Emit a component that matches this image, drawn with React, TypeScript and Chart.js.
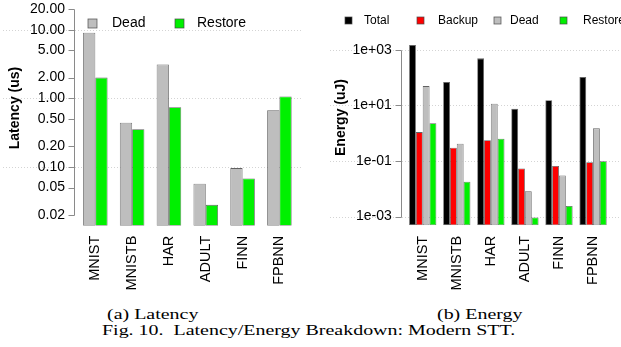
import React, { useEffect, useRef } from 'react';
import { Chart, registerables } from 'chart.js';
Chart.register(...registerables);

// ---------------- data ----------------
const categories = ['MNIST', 'MNISTB', 'HAR', 'ADULT', 'FINN', 'FPBNN'];

const latencyDead = [9.0, 0.44, 3.1, 0.057, 0.096, 0.67];
const latencyRestore = [2.0, 0.355, 0.74, 0.028, 0.068, 1.06];
const latencyTicks = [20, 10, 5, 2, 1, 0.5, 0.2, 0.1, 0.05, 0.02];
const latencyTickLabels = ['20.00', '10.00', '5.00', '2.00', '1.00', '0.50', '0.20', '0.10', '0.05', '0.02'];
const latencyGrid = [10, 1, 0.1];

const energyTotal = [1500, 70, 500, 7.7, 15.4, 106];
const energyBackup = [1.1, 0.3, 0.56, 0.054, 0.066, 0.09];
const energyDead = [50, 0.42, 11.6, 0.0081, 0.03, 1.5];
const energyRestore = [2.3, 0.018, 0.64, 0.00093, 0.0024, 0.098];
const energyTicks = [1000, 10, 0.1, 0.001];
const energyTickLabels = ['1e+03', '1e+01', '1e-01', '1e-03'];
const energyGrid = [1000, 10, 0.1, 0.001];

// ---------------- styles ----------------
const SANS = '"Liberation Sans", Arial, Helvetica, sans-serif';
const SERIF = '"Liberation Serif", "Times New Roman", serif';
const GREY = '#bebebe';
const GREEN = '#00f000';
const RED = '#ff0000';
const BLACK = '#000000';
const EDGE = 'rgba(70,70,70,0.85)';

const decoPlugin = {
  id: 'deco',
  beforeDraw(chart: any, _args: any, o: any) {
    const ctx = chart.ctx;
    const y = chart.scales.y;
    ctx.save();
    ctx.strokeStyle = '#d4d4d4';
    ctx.lineWidth = 1;
    ctx.setLineDash([1, 2]);
    for (const v of o.gridVals) {
      const py = Math.round(y.getPixelForValue(v)) + 0.5;
      ctx.beginPath();
      ctx.moveTo(o.gridX0, py);
      ctx.lineTo(o.gridX1, py);
      ctx.stroke();
    }
    ctx.restore();
  },
  afterDraw(chart: any, _args: any, o: any) {
    const ctx = chart.ctx;
    const y = chart.scales.y;
    const ticks: number[] = o.ticks;
    const ax = Math.round(chart.chartArea.left - o.axisGap) + 0.5;
    ctx.save();
    ctx.strokeStyle = '#8a8a8a';
    ctx.lineWidth = 1;
    const yTop = Math.round(y.getPixelForValue(ticks[0])) + 0.5;
    const yBot = Math.round(y.getPixelForValue(ticks[ticks.length - 1])) + 0.5;
    ctx.beginPath();
    ctx.moveTo(ax, yTop);
    ctx.lineTo(ax, yBot);
    for (const v of ticks) {
      const py = Math.round(y.getPixelForValue(v)) + 0.5;
      ctx.moveTo(ax, py);
      ctx.lineTo(ax - o.tickLen, py);
    }
    ctx.stroke();

    // axis title
    ctx.fillStyle = '#000';
    ctx.font = `bold ${o.titleSize}px ${SANS}`;
    ctx.translate(o.titleX, o.titleY);
    ctx.rotate(-Math.PI / 2);
    ctx.textAlign = 'center';
    ctx.textBaseline = 'middle';
    ctx.fillText(o.title, 0, 0);
    ctx.restore();

    // legend
    ctx.save();
    ctx.font = `${o.legendSize}px ${SANS}`;
    ctx.textBaseline = 'middle';
    ctx.textAlign = 'left';
    for (const it of o.legend) {
      ctx.fillStyle = it.color;
      ctx.fillRect(it.boxX, o.legendY - o.box / 2, o.box, o.box);
      ctx.strokeStyle = EDGE;
      ctx.lineWidth = 0.8;
      ctx.strokeRect(it.boxX, o.legendY - o.box / 2, o.box, o.box);
      ctx.fillStyle = '#000';
      ctx.fillText(it.label, it.textX, o.legendY);
    }
    ctx.restore();
  },
};

function barSet(label: string, data: number[], color: string) {
  return {
    label,
    data,
    backgroundColor: color,
    borderColor: EDGE,
    borderWidth: 0.8,
    borderSkipped: false,
    barPercentage: 1,
  };
}

function makeOptions(cfg: any) {
  return {
    animation: false,
    responsive: false,
    maintainAspectRatio: false,
    layout: { padding: { top: cfg.top, right: cfg.right, left: 0, bottom: 0 } },
    plugins: {
      legend: { display: false },
      tooltip: { enabled: false },
      deco: cfg.deco,
    },
    scales: {
      x: {
        grid: { display: false, drawTicks: false },
        border: { display: false },
        ticks: {
          minRotation: 90,
          maxRotation: 90,
          autoSkip: false,
          padding: cfg.xPad,
          color: '#000',
          font: { family: SANS, size: 14.5 },
        },
        afterFit: (s: any) => {
          s.height = cfg.xHeight;
        },
      },
      y: {
        type: 'logarithmic',
        min: cfg.min,
        max: cfg.max,
        grid: { display: false, drawTicks: false },
        border: { display: false },
        afterBuildTicks: (s: any) => {
          s.ticks = cfg.ticks.map((v: number) => ({ value: v }));
        },
        ticks: {
          autoSkip: false,
          padding: cfg.yPad,
          color: '#000',
          font: { family: SANS, size: 14 },
          callback: (v: number) => cfg.tickLabels[cfg.ticks.indexOf(v)],
        },
        afterFit: (s: any) => {
          s.width = cfg.yWidth;
          s.paddingTop = 0;
          s.paddingBottom = 0;
        },
      },
    },
  };
}

function LatencyChart() {
  const ref = useRef<HTMLCanvasElement>(null);
  useEffect(() => {
    const chart = new Chart(ref.current as HTMLCanvasElement, {
      type: 'bar',
      data: {
        labels: categories,
        datasets: [
          { ...barSet('Dead', latencyDead, GREY), categoryPercentage: 2 / 3 },
          { ...barSet('Restore', latencyRestore, GREEN), categoryPercentage: 2 / 3 },
        ],
      },
      options: makeOptions({
        top: 9,
        right: 12.2,
        xPad: 10,
        xHeight: 74.3,
        min: 0.0139,
        max: 20,
        ticks: latencyTicks,
        tickLabels: latencyTickLabels,
        yPad: 11.9,
        yWidth: 76.9,
        deco: {
          gridVals: latencyGrid,
          gridX0: 3,
          gridX1: 303,
          ticks: latencyTicks,
          axisGap: 3,
          tickLen: 6,
          title: 'Latency (us)',
          titleSize: 14,
          titleX: 15.5,
          titleY: 108,
          legendSize: 14,
          legendY: 23.5,
          box: 9,
          legend: [
            { label: 'Dead', color: GREY, boxX: 88, textX: 112 },
            { label: 'Restore', color: GREEN, boxX: 175, textX: 197 },
          ],
        },
      }) as any,
      plugins: [decoPlugin],
    });
    return () => chart.destroy();
  }, []);
  return <canvas ref={ref} width={310} height={300} style={{ position: 'absolute', left: 0, top: 0, display: 'block' }} />;
}

function EnergyChart() {
  const ref = useRef<HTMLCanvasElement>(null);
  useEffect(() => {
    const chart = new Chart(ref.current as HTMLCanvasElement, {
      type: 'bar',
      data: {
        labels: categories,
        datasets: [
          { ...barSet('Total', energyTotal, BLACK), categoryPercentage: 0.8 },
          { ...barSet('Backup', energyBackup, RED), categoryPercentage: 0.8 },
          { ...barSet('Dead', energyDead, GREY), categoryPercentage: 0.8 },
          { ...barSet('Restore', energyRestore, GREEN), categoryPercentage: 0.8 },
        ],
      },
      options: makeOptions({
        top: 38,
        right: 0.7,
        xPad: 10.5,
        xHeight: 74.7,
        min: 0.000482,
        max: 2705,
        ticks: energyTicks,
        tickLabels: energyTickLabels,
        yPad: 14,
        yWidth: 95.7,
        deco: {
          gridVals: energyGrid,
          gridX0: 20,
          gridX1: 311,
          ticks: energyTicks,
          axisGap: 5,
          tickLen: 6,
          title: 'Energy (uJ)',
          titleSize: 14,
          titleX: 31,
          titleY: 117.5,
          legendSize: 12,
          legendY: 20.5,
          box: 7,
          legend: [
            { label: 'Total', color: BLACK, boxX: 35, textX: 54 },
            { label: 'Backup', color: RED, boxX: 107, textX: 128 },
            { label: 'Dead', color: GREY, boxX: 184, textX: 200 },
            { label: 'Restore', color: GREEN, boxX: 250, textX: 273 },
          ],
        },
      }) as any,
      plugins: [decoPlugin],
    });
    return () => chart.destroy();
  }, []);
  return <canvas ref={ref} width={311} height={300} style={{ position: 'absolute', left: 310, top: 0, display: 'block' }} />;
}

const captionStyle: React.CSSProperties = {
  position: 'absolute',
  fontFamily: SERIF,
  fontSize: 15,
  lineHeight: '15px',
  whiteSpace: 'pre',
  color: '#000',
  transform: 'scaleX(1.33)',
  transformOrigin: '0 0',
};

export default function App() {
  return (
    <div
      style={{
        position: 'fixed',
        left: 0,
        top: 0,
        width: 621,
        height: 347,
        background: '#fff',
        overflow: 'hidden',
      }}
    >
      <LatencyChart />
      <EnergyChart />
      <div style={{ ...captionStyle, left: 107, top: 307.4 }}>(a) Latency</div>
      <div style={{ ...captionStyle, left: 437, top: 307.4 }}>(b) Energy</div>
      <div style={{ ...captionStyle, left: 102, top: 323.4 }}>{'Fig. 10.  Latency/Energy Breakdown: Modern STT.'}</div>
    </div>
  );
}
